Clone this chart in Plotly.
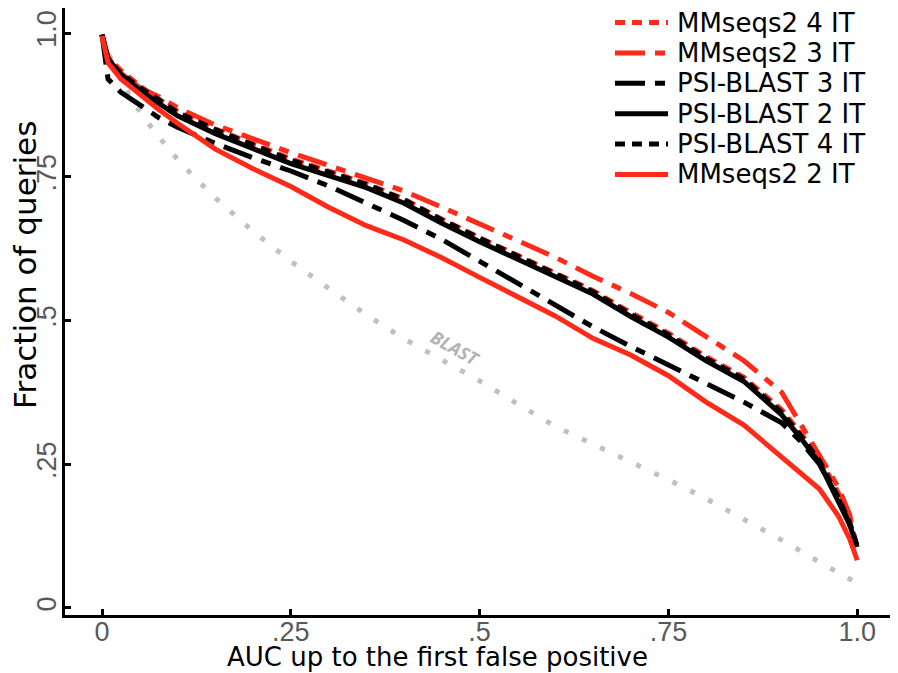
import plotly.graph_objects as go

# ---- data ----
x_grid = [0, 0.008, 0.025, 0.05, 0.075, 0.1, 0.15, 0.2, 0.25, 0.3, 0.35, 0.4, 0.45, 0.5,
          0.55, 0.6, 0.65, 0.7, 0.75, 0.8, 0.85, 0.9, 0.925, 0.95, 0.975, 0.99, 1.0]

mm4 = [0.997, 0.958, 0.935, 0.908, 0.885, 0.864, 0.833, 0.808, 0.781, 0.760, 0.738, 0.711, 0.676, 0.644,
       0.613, 0.583, 0.552, 0.514, 0.478, 0.437, 0.401, 0.345, 0.305, 0.262, 0.200, 0.150, 0.100]
mm3 = [0.997, 0.957, 0.930, 0.905, 0.889, 0.870, 0.840, 0.815, 0.792, 0.770, 0.748, 0.725, 0.697, 0.668,
       0.640, 0.610, 0.577, 0.547, 0.514, 0.473, 0.430, 0.375, 0.320, 0.266, 0.210, 0.162, 0.100]
psi3 = [0.997, 0.920, 0.897, 0.874, 0.853, 0.836, 0.808, 0.783, 0.760, 0.734, 0.705, 0.674, 0.641, 0.603,
        0.565, 0.528, 0.489, 0.455, 0.422, 0.391, 0.358, 0.322, 0.290, 0.250, 0.190, 0.145, 0.105]
psi2 = [0.997, 0.955, 0.928, 0.900, 0.878, 0.856, 0.825, 0.800, 0.773, 0.752, 0.731, 0.704, 0.669, 0.637,
        0.606, 0.576, 0.546, 0.507, 0.471, 0.430, 0.394, 0.336, 0.296, 0.252, 0.187, 0.145, 0.106]
psi4 = [0.997, 0.952, 0.930, 0.905, 0.884, 0.862, 0.832, 0.806, 0.779, 0.758, 0.737, 0.710, 0.675, 0.643,
        0.612, 0.581, 0.550, 0.511, 0.475, 0.434, 0.398, 0.340, 0.300, 0.256, 0.192, 0.148, 0.108]
mm2 = [0.995, 0.948, 0.920, 0.893, 0.867, 0.843, 0.798, 0.764, 0.733, 0.697, 0.665, 0.640, 0.609, 0.575,
       0.542, 0.508, 0.469, 0.440, 0.404, 0.358, 0.318, 0.263, 0.235, 0.207, 0.160, 0.120, 0.083]

blast_x = [0, 0.01, 0.024, 0.037, 0.053, 0.07, 0.087, 0.107, 0.15, 0.2, 0.25, 0.3, 0.35, 0.4,
           0.45, 0.5, 0.55, 0.6, 0.65, 0.7, 0.75, 0.8, 0.85, 0.9, 0.95, 1.0]
blast_y = [0.995, 0.960, 0.925, 0.890, 0.857, 0.828, 0.800, 0.770, 0.713, 0.655, 0.603, 0.556, 0.510, 0.468,
           0.432, 0.395, 0.355, 0.316, 0.285, 0.255, 0.223, 0.190, 0.155, 0.118, 0.080, 0.043]

tick_vals = [0, 0.25, 0.5, 0.75, 1.0]
tick_text = ["0", ".25", ".5", ".75", "1.0"]

RED = "#ff2a1a"
BLACK = "#000000"
GREY = "#c0c0c0"
LDD = "30px,10px,10px,10px"

# legend order as in the reference
series = [
    ("MMseqs2 4 IT", mm4, RED, "10px,7px"),
    ("MMseqs2 3 IT", mm3, RED, LDD),
    ("PSI-BLAST 3 IT", psi3, BLACK, LDD),
    ("PSI-BLAST 2 IT", psi2, BLACK, "solid"),
    ("PSI-BLAST 4 IT", psi4, BLACK, "10px,7px"),
    ("MMseqs2 2 IT", mm2, RED, "solid"),
]

OFF = 8  # page body margin
W, H = 898 - OFF, 673 - OFF
ML, MR, MT, MB = 65 - OFF, 0, 0, 58
PW, PH = W - ML - MR, H - MT - MB


def px_x(px):
    return (px - OFF - ML) / PW


def px_y(py):
    return (H - MB - (py - OFF)) / PH


fig = go.Figure()
fig.add_trace(go.Scatter(x=blast_x, y=blast_y, mode="lines", showlegend=False, name="BLAST",
                         line=dict(color=GREY, width=5, dash="5px,15px")))
for name, ys, col, dash in series:
    fig.add_trace(go.Scatter(x=x_grid, y=ys, mode="lines", name=name, showlegend=False,
                             line=dict(color=col, width=5, dash=dash)))

# legend block (line sample + label), placed like the reference
for i, (name, ys, col, dash) in enumerate(series):
    yc = 22.5 + 30.4 * i
    fig.add_shape(type="line", xref="paper", yref="paper",
                  x0=px_x(615), x1=px_x(668), y0=px_y(yc), y1=px_y(yc),
                  line=dict(color=col, width=5, dash=dash))
    fig.add_annotation(xref="paper", yref="paper", x=px_x(675), y=px_y(yc),
                       xanchor="left", yanchor="middle", showarrow=False, text=name,
                       font=dict(family="DejaVu Sans", size=26, color="black"))

fig.add_annotation(x=0.468, y=0.452, text="BLAST", showarrow=False, textangle=29,
                   font=dict(family="Open Sans", size=18, color="#b3b3b3", weight="bold", style="italic"))

fig.add_annotation(xref="paper", yref="paper", x=px_x(437), y=px_y(657),
                   text="AUC up to the first false positive", showarrow=False,
                   xanchor="center", yanchor="middle",
                   font=dict(family="DejaVu Sans", size=26, color="black"))
fig.add_annotation(xref="paper", yref="paper", x=px_x(25), y=px_y(265),
                   text="Fraction of queries", showarrow=False, textangle=-90,
                   xanchor="center", yanchor="middle",
                   font=dict(family="DejaVu Sans", size=31, color="black"))

fig.update_layout(
    width=W, height=H,
    margin=dict(l=ML, r=MR, t=MT, b=MB, pad=0),
    paper_bgcolor="white", plot_bgcolor="white",
    font=dict(family="Liberation Sans", size=24, color="black"),
    showlegend=False,
    xaxis=dict(range=[-0.049, 1.054], showgrid=False, zeroline=False, showline=True,
               automargin=False, ticklabelstandoff=-9,
               linecolor="black", linewidth=3, ticks="inside", ticklen=6, tickwidth=3,
               tickcolor="black", tickvals=tick_vals, ticktext=tick_text,
               tickfont=dict(family="Liberation Sans", size=27, color="#595959")),
    yaxis=dict(range=[-0.0122, 1.0435], showgrid=False, zeroline=False, showline=True,
               automargin=False, ticklabelstandoff=-5,
               linecolor="black", linewidth=3, ticks="inside", ticklen=6, tickwidth=3,
               tickcolor="black", tickvals=tick_vals, ticktext=tick_text, tickangle=-90,
               tickfont=dict(family="Liberation Sans", size=27, color="#595959")),
)

fig.write_html("out.html")
